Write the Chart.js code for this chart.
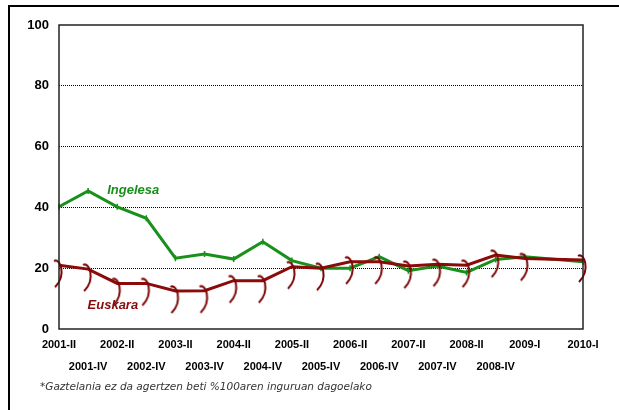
<!DOCTYPE html>
<html>
<head>
<meta charset="utf-8">
<script src="https://cdn.jsdelivr.net/npm/chart.js@4/dist/chart.umd.min.js"></script>
<style>
  html, body { margin: 0; padding: 0; background: #fff; }
  #wrap { position: relative; width: 619px; height: 410px; overflow: hidden; }
  #frame { position: absolute; left: 8px; top: 5px; right: -10px; bottom: -10px;
           border-left: 2px solid #000; border-top: 2px solid #000; }
  #note { position: absolute; left: 40px; top: 380px; font: italic 10.5px "DejaVu Sans", sans-serif;
          color: #333; white-space: nowrap; }
  canvas { position: absolute; left: 0; top: 0; }
</style>
</head>
<body>
<div id="wrap">
  <div id="frame"></div>
  <canvas id="chart" width="619" height="410"></canvas>
  <div id="note">*Gaztelania ez da agertzen beti %100aren inguruan dagoelako</div>
</div>
<script>
// periods (index 17 has no survey, keeps the spacing)
const periods = ['2001-II', '2001-IV', '2002-II', '2002-IV', '2003-II', '2003-IV', '2004-II', '2004-IV',
  '2005-II', '2005-IV', '2006-II', '2006-IV', '2007-II', '2007-IV', '2008-II', '2008-IV', '2009-I', '', '2010-I'];

const ingelesa = [40.2, 45.4, 40.2, 36.4, 23.3, 24.7, 23.0, 28.7, 22.5, 20.0, 20.0, 23.8, 19.2, 20.7, 18.6, 22.9, 23.8, null, 22.1];
const euskara = [21.0, 19.7, 15.0, 15.0, 12.5, 12.6, 15.9, 15.9, 20.5, 20.0, 22.1, 22.1, 20.7, 21.3, 21.0, 24.3, 23.2, null, 22.7];

const yTicks = [0, 20, 40, 60, 80, 100];

const green = '#18901a';
const brown = '#8b0a0a';

// labels on two rows, even on top, odd below
const labels = periods.map((p, i) => i % 2 === 0 ? [p, ''] : ['', p]);

// the ")" shaped marker of the Euskara line
const bracket = document.createElement('canvas');
bracket.width = 18;
bracket.height = 52;
const bc = bracket.getContext('2d');
bc.strokeStyle = '#7c0606';
bc.lineWidth = 2;
bc.beginPath();
bc.moveTo(4, 22);
bc.bezierCurveTo(10, 18, 17, 36, 5, 48);
bc.stroke();

const framePlugin = {
  id: 'frame',
  afterDraw(chart) {
    const ctx = chart.ctx;
    const a = chart.chartArea;
    ctx.save();
    ctx.strokeStyle = '#222';
    ctx.lineWidth = 1.5;
    ctx.strokeRect(a.left, a.top, a.right - a.left, a.bottom - a.top);
    ctx.restore();
  }
};

const seriesNames = {
  id: 'seriesNames',
  afterDatasetsDraw(chart) {
    const ctx = chart.ctx;
    const x = chart.scales.x, y = chart.scales.y;
    ctx.save();
    ctx.font = 'italic bold 13px "Liberation Sans", Arial, sans-serif';
    ctx.textAlign = 'center';
    ctx.textBaseline = 'middle';
    ctx.fillStyle = green;
    ctx.fillText('Ingelesa', x.getPixelForValue(2.55), y.getPixelForValue(45.6));
    ctx.fillStyle = brown;
    ctx.fillText('Euskara', x.getPixelForValue(1.85), y.getPixelForValue(7.8));
    ctx.restore();
  }
};

new Chart(document.getElementById('chart'), {
  type: 'line',
  data: {
    labels: labels,
    datasets: [
      {
        label: 'Euskara',
        data: euskara,
        borderColor: brown,
        borderWidth: 3,
        pointStyle: bracket,
        pointRadius: 8,
        spanGaps: true,
        tension: 0
      },
      {
        label: 'Ingelesa',
        data: ingelesa,
        borderColor: green,
        backgroundColor: green,
        borderWidth: 3,
        pointStyle: 'line',
        rotation: 90,
        pointRadius: 3,
        pointBorderWidth: 1.5,
        spanGaps: true,
        tension: 0
      }
    ]
  },
  options: {
    responsive: false,
    animation: false,
    layout: { padding: { left: 0, top: 25, right: 36, bottom: 0 } },
    plugins: {
      legend: { display: false },
      tooltip: { enabled: false }
    },
    scales: {
      x: {
        offset: false,
        grid: { display: false, drawTicks: false },
        border: { display: false },
        afterFit(scale) { scale.height = 81; },
        ticks: {
          autoSkip: false,
          maxRotation: 0,
          minRotation: 0,
          padding: 5,
          color: '#000',
          font: { family: '"Liberation Sans", Arial, sans-serif', size: 11, weight: 'bold', lineHeight: 2 }
        }
      },
      y: {
        min: 0,
        max: 100,
        afterFit(scale) { scale.width = 59; },
        afterBuildTicks(scale) { scale.ticks = yTicks.map(v => ({ value: v })); },
        grid: {
          drawTicks: false,
          color: ctx => (ctx.tick.value === 0 || ctx.tick.value === 100) ? 'rgba(0,0,0,0)' : '#000',
          lineWidth: 1
        },
        border: { display: false, dash: [1, 1] },
        ticks: {
          padding: 10,
          color: '#000',
          font: { family: '"Liberation Sans", Arial, sans-serif', size: 13, weight: 'bold' }
        }
      }
    }
  },
  plugins: [framePlugin, seriesNames]
});
</script>
</body>
</html>
